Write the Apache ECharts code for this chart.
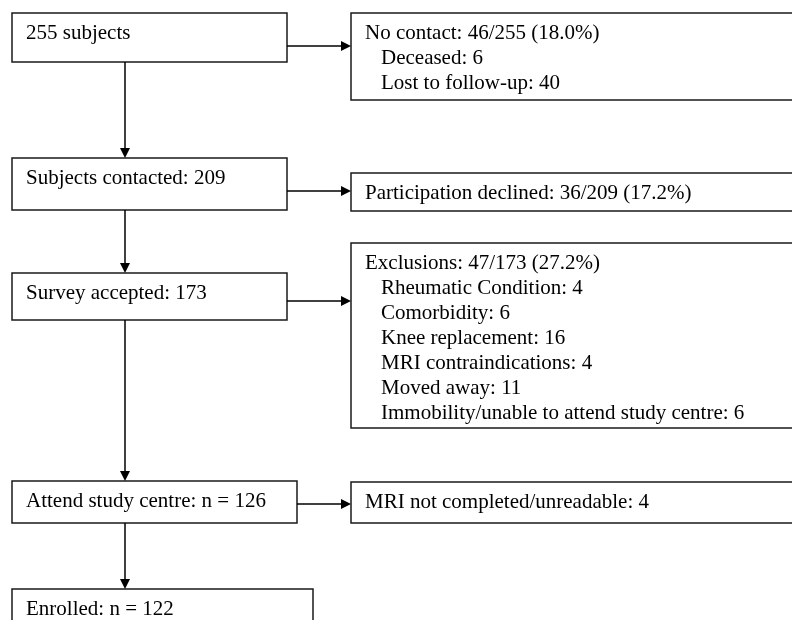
<!DOCTYPE html>
<html>
<head>
<meta charset="utf-8">
<script src="https://cdn.jsdelivr.net/npm/echarts@6/dist/echarts.min.js"></script>
<style>
html,body{margin:0;padding:0;background:#fff;}
#chart{width:792px;height:620px;}
</style>
</head>
<body>
<div id="chart"></div>
<script>
// ---- content ----
const stepLabels = [
  '255 subjects',
  'Subjects contacted: 209',
  'Survey accepted: 173',
  'Attend study centre: n = 126',
  'Enrolled: n = 122'
];
const sideHeaders = [
  'No contact: 46/255 (18.0%)',
  'Participation declined: 36/209 (17.2%)',
  'Exclusions: 47/173 (27.2%)',
  'MRI not completed/unreadable: 4'
];
const sideDetails = [
  ['Deceased: 6', 'Lost to follow-up: 40'],
  [],
  ['Rheumatic Condition: 4', 'Comorbidity: 6', 'Knee replacement: 16',
   'MRI contraindications: 4', 'Moved away: 11', 'Immobility/unable to attend study centre: 6'],
  []
];

// ---- layout (diagram coordinates, drawn through hidden value axes) ----
const mainBoxLayout = [
  [12, 13, 287, 62],
  [12, 158, 287, 210],
  [12, 273, 287, 320],
  [12, 481, 297, 523],
  [12, 589, 313, 680]
];
const sideBoxLayout = [
  [351, 13, 820, 100],
  [351, 173, 820, 211],
  [351, 243, 820, 428],
  [351, 482, 820, 523]
];
const downArrowLayout = [
  [125, 62, 125, 158],
  [125, 210, 125, 273],
  [125, 320, 125, 481],
  [125, 523, 125, 589]
];
const sideArrowLayout = [
  [287, 46, 351, 46],
  [287, 191, 351, 191],
  [287, 301, 351, 301],
  [297, 504, 351, 504]
];

const FONT = '"Liberation Serif", "Times New Roman", serif';
const FS = 21;
const LINE_H = 25;
const TEXT_PAD_X = 14;
const INDENT = 16;
const FIRST_LINE = 20;

const boxData = [];
mainBoxLayout.forEach((r, i) => boxData.push({ value: r, lines: [{ t: stepLabels[i], ind: 0 }] }));
sideBoxLayout.forEach((r, i) => {
  const lines = [{ t: sideHeaders[i], ind: 0 }];
  sideDetails[i].forEach(d => lines.push({ t: d, ind: 1 }));
  boxData.push({ value: r, lines: lines });
});

const arrowData = downArrowLayout.concat(sideArrowLayout).map(a => ({ value: a }));

const chart = echarts.init(document.getElementById('chart'), null, { renderer: 'canvas' });
chart.setOption({
  backgroundColor: '#ffffff',
  animation: false,
  grid: { left: 0, right: 0, top: 0, bottom: 0 },
  xAxis: { type: 'value', min: 0, max: 792, show: false },
  yAxis: { type: 'value', min: 0, max: 620, inverse: true, show: false },
  series: [
    {
      type: 'custom',
      clip: false,
      data: boxData,
      encode: { x: [0, 2], y: [1, 3] },
      renderItem: function (params, api) {
        const d = boxData[params.dataIndex];
        const p0 = api.coord([d.value[0], d.value[1]]);
        const p1 = api.coord([d.value[2], d.value[3]]);
        const children = [{
          type: 'rect',
          shape: { x: p0[0], y: p0[1], width: p1[0] - p0[0], height: p1[1] - p0[1] },
          style: { fill: '#ffffff', stroke: '#1a1a1a', lineWidth: 1.5 }
        }];
        d.lines.forEach((ln, k) => {
          const tp = api.coord([d.value[0] + TEXT_PAD_X + ln.ind * INDENT, d.value[1] + FIRST_LINE + k * LINE_H]);
          children.push({
            type: 'text',
            style: {
              text: ln.t, x: tp[0], y: tp[1],
              fill: '#000', fontSize: FS, fontFamily: FONT,
              align: 'left', verticalAlign: 'middle'
            }
          });
        });
        return { type: 'group', children: children };
      }
    },
    {
      type: 'custom',
      clip: false,
      data: arrowData,
      encode: { x: [0, 2], y: [1, 3] },
      renderItem: function (params, api) {
        const a = arrowData[params.dataIndex].value;
        const s = api.coord([a[0], a[1]]);
        const e = api.coord([a[2], a[3]]);
        const dx = e[0] - s[0], dy = e[1] - s[1];
        const len = Math.sqrt(dx * dx + dy * dy);
        const ux = dx / len, uy = dy / len;
        const hl = 10, hw = 5;
        const bx = e[0] - ux * hl, by = e[1] - uy * hl;
        return {
          type: 'group',
          children: [
            { type: 'line', shape: { x1: s[0], y1: s[1], x2: bx, y2: by },
              style: { stroke: '#000', lineWidth: 1.5 } },
            { type: 'polygon', shape: { points: [[e[0], e[1]], [bx - uy * hw, by + ux * hw], [bx + uy * hw, by - ux * hw]] },
              style: { fill: '#000' } }
          ]
        };
      }
    }
  ]
});
</script>
</body>
</html>
